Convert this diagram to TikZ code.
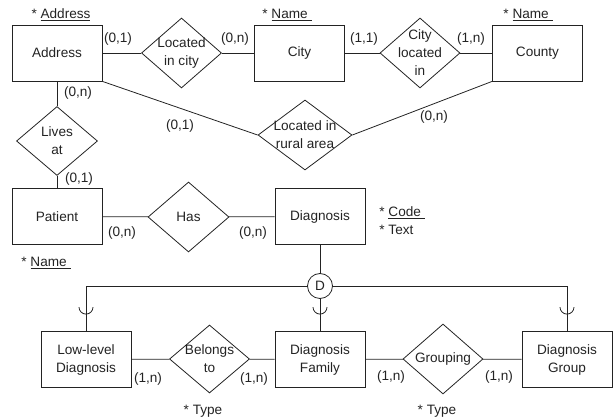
\documentclass[tikz,border=0pt]{standalone}
\usepackage{fontspec}
\setmainfont{Liberation Sans}
\usetikzlibrary{shapes.geometric}
\definecolor{erink}{RGB}{35,35,35}
\tikzset{
  entity/.style={draw, rectangle, minimum width=90pt, minimum height=56pt, inner sep=0pt, align=center},
  relation/.style={draw, diamond, minimum width=80pt, minimum height=70pt, inner sep=-12pt, align=center},
  card/.style={inner sep=0pt},
  attr/.style={inner sep=0pt, align=left},
  subtype/.style={draw, circle, minimum size=25pt, inner sep=0pt}
}
\begin{document}
\begin{tikzpicture}[x=1pt, y=1pt, color=erink, line width=0.8pt, font=\fontsize{13.6}{18}\selectfont]
\useasboundingbox (0,0) rectangle (613,-419);
% Entities
\node[entity] (address) at (57,-53) {Address};
\node[entity] (city) at (299.5,-53) {City};
\node[entity] (county) at (537.5,-53) {County};
\node[entity] (patient) at (57,-216.5) {Patient};
\node[entity] (diagnosis) at (320,-216.5) {Diagnosis};
\node[entity] (lowlevel) at (86,-359.5) {Low-level\\Diagnosis};
\node[entity] (family) at (320,-359.5) {Diagnosis\\Family};
\node[entity] (group) at (567,-359.5) {Diagnosis\\Group};
% Relationships
\node[relation] (incity) at (181.5,-53) {Located\\in city};
\node[relation] (incounty) at (420,-53) {City\\located\\in};
\node[relation, minimum width=81pt, minimum height=69pt] (livesat) at (57,-141) {Lives\\at};
\node[relation, minimum width=94pt] (rural) at (305,-135) {Located in\\rural area};
\node[relation, minimum width=81pt] (has) at (188.5,-217) {Has};
\node[relation, minimum height=68pt] (belongs) at (209.5,-359) {Belongs\\to};
\node[relation] (grouping) at (443,-359) {Grouping};
\node[subtype] (disjoint) at (320,-286) {D};
% Connectors
\draw (address) -- (incity) -- (city) -- (incounty) -- (county);
\draw (address) -- (livesat) -- (patient);
\draw (address.south east) -- (rural.west);
\draw (county.south west) -- (rural.east);
\draw (patient) -- (has) -- (diagnosis);
\draw (lowlevel) -- (belongs) -- (family) -- (grouping) -- (group);
\draw (diagnosis) -- (disjoint) -- (family);
\draw (disjoint.west) -| (lowlevel.north);
\draw (disjoint.east) -| (group.north);
\foreach \n in {lowlevel,family,group}
  \draw ([shift={(-7,24)}]\n.north) arc[start angle=180, end angle=360, radius=7];
% Cardinalities
\node[card] (c1) at (118,-39) {(0,1)};
\node[card] (c2) at (235,-39) {(0,n)};
\node[card] (c3) at (364,-39) {(1,1)};
\node[card] (c4) at (471,-39) {(1,n)};
\node[card] (c5) at (78,-93) {(0,n)};
\node[card] (c6) at (180,-126) {(0,1)};
\node[card] (c7) at (434,-117) {(0,n)};
\node[card] (c8) at (79,-179) {(0,1)};
\node[card] (c9) at (122,-233) {(0,n)};
\node[card] (c10) at (253,-233) {(0,n)};
\node[card] (c11) at (148,-379) {(1,n)};
\node[card] (c12) at (254,-379) {(1,n)};
\node[card] (c13) at (391,-377) {(1,n)};
\node[card] (c14) at (499,-377) {(1,n)};
% Attributes
\node[attr] (a1) at (61,-15) {* \underline{Address}};
\node[attr] (a2) at (287,-15) {* \underline{Name\ }};
\node[attr] (a3) at (528,-15) {* \underline{Name\ }};
\node[attr] (a4) at (46,-263) {* \underline{Name\ }};
\node[attr, anchor=west] (a5) at (379,-220.5) {* \underline{Code\ }\\* Text};
\node[attr] (a6) at (203,-411) {* Type};
\node[attr] (a7) at (437,-411) {* Type};
\end{tikzpicture}
\end{document}
